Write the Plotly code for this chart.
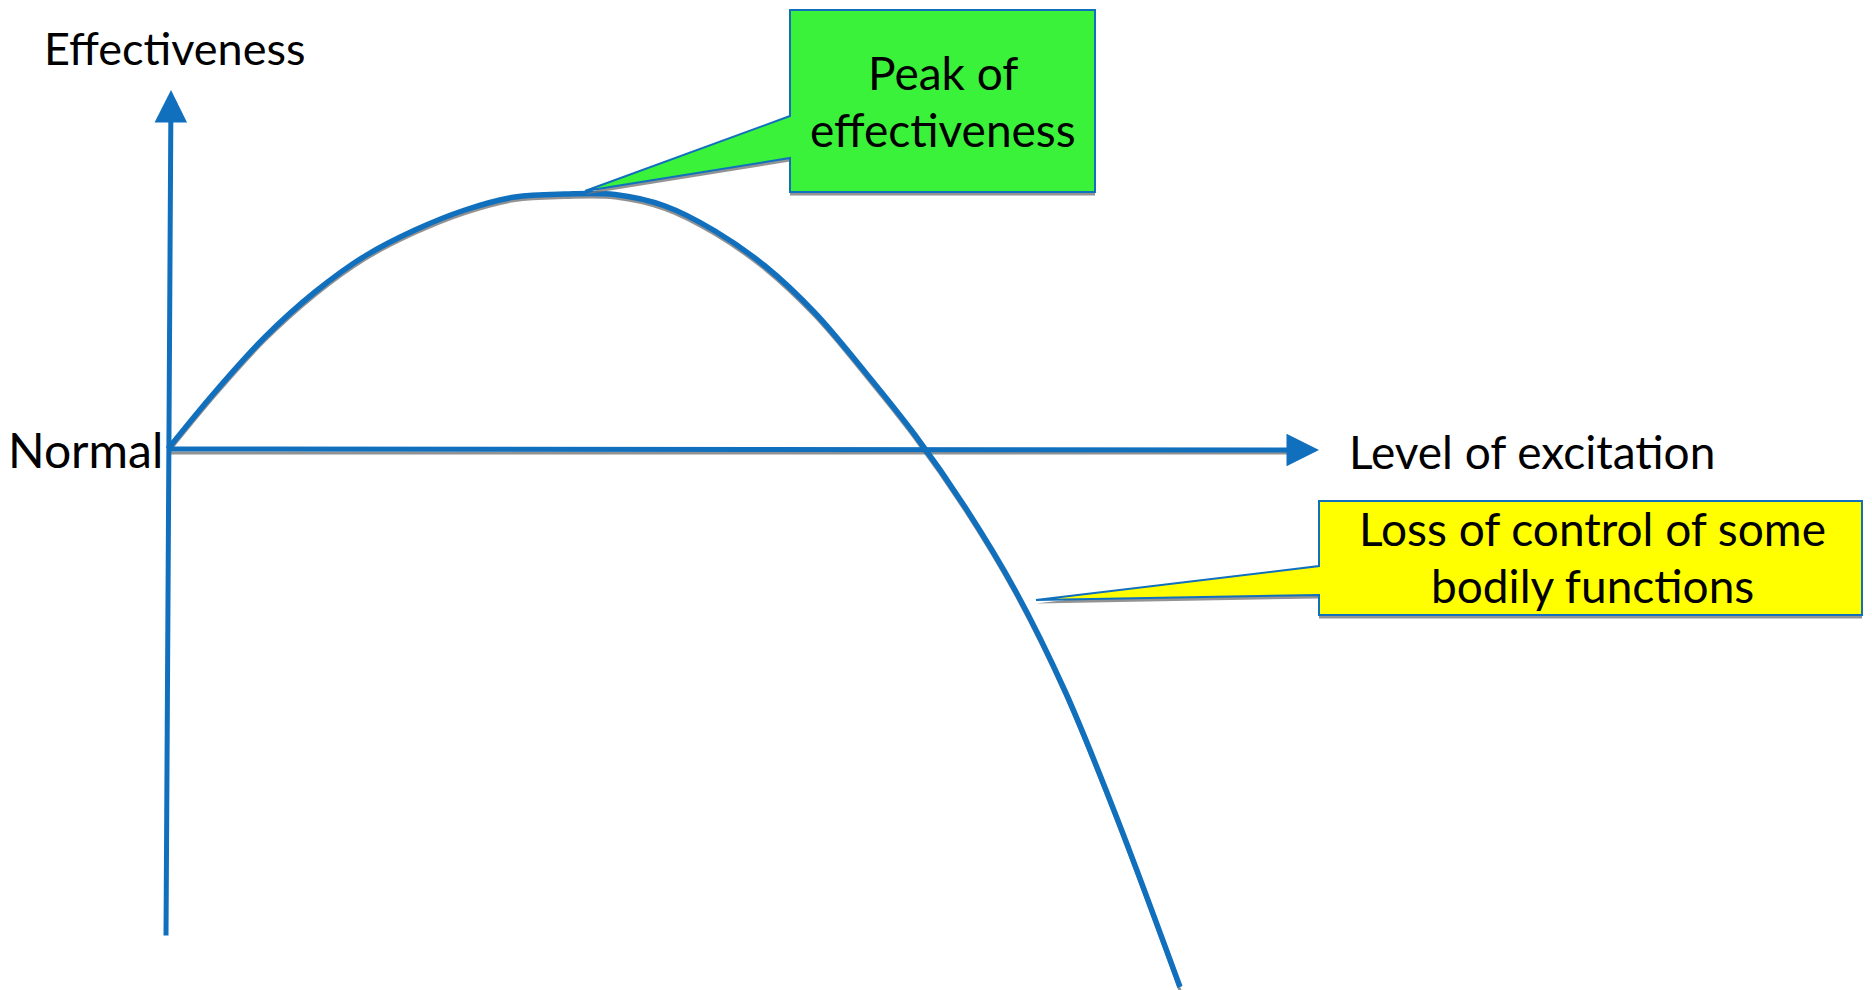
import plotly.graph_objects as go

# ---- data (excitation vs effectiveness, origin = "Normal") ----
excitation = [0, 0.47, 0.97, 1.47, 1.97, 2.47, 2.97, 3.47, 3.97, 4.47, 4.97,
              5.47, 5.97, 6.47, 6.97, 7.47, 7.97, 8.47, 8.97, 9.47, 10.12]
effectiveness = [0, 0.57, 1.12, 1.57, 1.93, 2.19, 2.39, 2.52, 2.55, 2.545, 2.43,
                 2.18, 1.83, 1.36, 0.77, 0.14, -0.58, -1.41, -2.42, -3.64, -5.38]

axis_x_label = "Level of excitation"
axis_y_label = "Effectiveness"
origin_label = "Normal"
peak_text = ["Peak of", "effectiveness"]
loss_text = ["Loss of control of some", "bodily functions"]

# callout outlines (data units)
peak_box_x = [4.17, 6.22, 6.22, 9.27, 9.27, 6.22, 6.22]
peak_box_y = [2.58, 3.33, 4.39, 4.39, 2.57, 2.57, 2.91]
loss_box_x = [8.68, 11.51, 11.51, 16.94, 16.94, 11.51, 11.51]
loss_box_y = [-1.51, -1.17, -0.52, -0.52, -1.66, -1.66, -1.46]

BLUE = "#1170BD"
SHADOW = "rgba(110,110,110,0.75)"
FONT = "Lato"

fig = go.Figure()

# curve shadow + axis shadow + curve
fig.add_trace(go.Scatter(x=excitation, y=[v - 0.035 for v in effectiveness],
                         mode="lines", line=dict(color=SHADOW, width=3, shape="spline", smoothing=1),
                         hoverinfo="skip", showlegend=False))
fig.add_trace(go.Scatter(x=[0, 11.3], y=[-0.04, -0.04], mode="lines",
                         line=dict(color=SHADOW, width=3),
                         hoverinfo="skip", showlegend=False))
fig.add_trace(go.Scatter(x=excitation, y=effectiveness, mode="lines",
                         line=dict(color=BLUE, width=5.5, shape="spline", smoothing=1),
                         hoverinfo="skip", showlegend=False))


def path(xs, ys, dy=0.0):
    s = "M %f,%f " % (xs[0], ys[0] + dy)
    for a, b in zip(xs[1:], ys[1:]):
        s += "L %f,%f " % (a, b + dy)
    return s + "Z"

shapes = [
    dict(type="path", path=path(peak_box_x, peak_box_y, -0.035), xref="x", yref="y",
         fillcolor="rgba(120,120,120,0.8)", line=dict(width=0), layer="above"),
    dict(type="path", path=path(peak_box_x, peak_box_y), xref="x", yref="y",
         fillcolor="#3AF23A", line=dict(color=BLUE, width=2), layer="above"),
    dict(type="path", path=path(loss_box_x, loss_box_y, -0.035), xref="x", yref="y",
         fillcolor="rgba(120,120,120,0.8)", line=dict(width=0), layer="above"),
    dict(type="path", path=path(loss_box_x, loss_box_y), xref="x", yref="y",
         fillcolor="#FFFF00", line=dict(color=BLUE, width=2), layer="above"),
]


def label(x, y, text, size=46, anchor="center"):
    return dict(x=x, y=y, xref="x", yref="y", text=text, showarrow=False,
                font=dict(family=FONT, size=size, color="black"),
                xanchor=anchor, yanchor="middle")

annotations = [
    # vertical axis arrow
    dict(x=0.03, y=3.59, ax=-0.02, ay=-4.88, xref="x", yref="y", axref="x", ayref="y",
         showarrow=True, arrowhead=2, arrowsize=1.3, arrowwidth=5, arrowcolor=BLUE, text=""),
    # horizontal axis arrow
    dict(x=11.51, y=-0.01, ax=0, ay=0, xref="x", yref="y", axref="x", ayref="y",
         showarrow=True, arrowhead=2, arrowsize=1.3, arrowwidth=5, arrowcolor=BLUE, text=""),
    label(0.06, 4.01, axis_y_label, 45),
    label(-0.03, 0.0, origin_label, 48, "right"),
    label(11.79, -0.02, axis_x_label, 46, "left"),
    label(7.75, 3.77, peak_text[0]),
    label(7.75, 3.20, peak_text[1]),
    label(14.24, -0.79, loss_text[0]),
    label(14.24, -1.36, loss_text[1]),
]

fig.update_layout(
    width=1872, height=990, margin=dict(l=0, r=0, t=0, b=0),
    paper_bgcolor="white", plot_bgcolor="white",
    xaxis=dict(range=[-1.68, 17.04], visible=False, fixedrange=True),
    yaxis=dict(range=[-5.41, 4.49], visible=False, fixedrange=True),
    shapes=shapes, annotations=annotations, showlegend=False,
)

fig.write_html("out.html")
